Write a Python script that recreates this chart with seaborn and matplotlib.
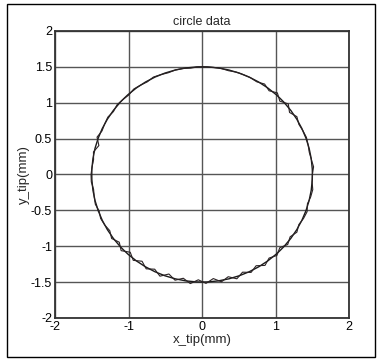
import numpy as np
import pandas as pd
import matplotlib
matplotlib.use("Agg")
import matplotlib.pyplot as plt
from matplotlib.patches import Circle, Rectangle
import seaborn as sns

# Nominal tip path radius (mm)
nominal_radius = 1.5

# Measured tip path: polar angle (deg) and measured radius (mm)
angle_deg = [0, 4, 8, 12, 16, 20, 24, 28, 32, 36, 40, 44, 48, 52, 56, 60, 64, 68,
             72, 76, 80, 84, 88, 92, 96, 100, 104, 108, 112, 116, 120, 124, 128,
             132, 136, 140, 144, 148, 152, 156, 160, 164, 168, 172, 176, 180, 184,
             188, 192, 196, 200, 204, 208, 212, 216, 220, 224, 228, 232, 236, 240,
             244, 248, 252, 256, 260, 264, 268, 272, 276, 280, 284, 288, 292, 296,
             300, 304, 308, 312, 316, 320, 324, 328, 332, 336, 340, 344, 348, 352,
             356, 360]
radius_mm = [1.50, 1.52, 1.50, 1.49, 1.50, 1.51, 1.50, 1.49, 1.52, 1.47, 1.53, 1.47,
             1.53, 1.48, 1.52, 1.49, 1.50, 1.50, 1.50, 1.49, 1.50, 1.50, 1.50, 1.50,
             1.49, 1.50, 1.50, 1.49, 1.50, 1.51, 1.49, 1.50, 1.51, 1.49, 1.50, 1.51,
             1.49, 1.51, 1.50, 1.49, 1.52, 1.46, 1.51, 1.49, 1.50, 1.51, 1.51, 1.49,
             1.50, 1.51, 1.49, 1.51, 1.50, 1.48, 1.52, 1.47, 1.53, 1.46, 1.52, 1.46,
             1.52, 1.47, 1.53, 1.46, 1.52, 1.47, 1.53, 1.47, 1.52, 1.46, 1.52, 1.47,
             1.53, 1.47, 1.52, 1.47, 1.53, 1.48, 1.52, 1.47, 1.52, 1.48, 1.52, 1.49,
             1.51, 1.52, 1.49, 1.51, 1.52, 1.50, 1.50]

ticks = [-2, -1.5, -1, -0.5, 0, 0.5, 1, 1.5, 2]
xticks = [-2, -1, 0, 1, 2]

theta = np.deg2rad(angle_deg)
r = np.asarray(radius_mm)
trace = pd.DataFrame({"x_tip": r * np.cos(theta),
                      "y_tip": r * np.sin(theta),
                      "order": np.arange(len(r))})

sns.set_style("white")
plt.rcParams["font.family"] = ["Liberation Sans", "DejaVu Sans"]
plt.rcParams["axes.unicode_minus"] = False

fig = plt.figure(figsize=(3.82, 3.60), dpi=100)
ax = fig.add_axes([0.144, 0.117, 0.770, 0.797])

ax.add_patch(Circle((0, 0), nominal_radius, fill=False, ec="#1a1a1a", lw=1.0, zorder=3))
sns.lineplot(data=trace, x="x_tip", y="y_tip", sort=False, estimator=None,
             color="#2a2224", lw=0.8, ax=ax, zorder=4)

ax.set_xlim(-2, 2)
ax.set_ylim(-2, 2)
ax.set_xticks(xticks)
ax.set_yticks(ticks)
ax.set_xticklabels([f"{t:g}" for t in xticks])
ax.set_yticklabels([f"{t:g}" for t in ticks])
ax.grid(True, color="#555555", lw=1.0)
ax.tick_params(labelsize=9, length=0, pad=2, colors="black")
for s in ax.spines.values():
    s.set_color("#333333")
    s.set_linewidth(1.3)

ax.set_xlabel("x_tip(mm)", fontsize=9.5, labelpad=1)
ax.set_ylabel("y_tip(mm)", fontsize=9.5, labelpad=1)
ax.set_title("circle data", fontsize=9, pad=4)

fig.patches.append(Rectangle((7 / 382, 3 / 360), 368 / 382, 353 / 360,
                             transform=fig.transFigure, fill=False,
                             ec="black", lw=1.0))

fig.savefig("out.png", dpi=100, facecolor="white")
